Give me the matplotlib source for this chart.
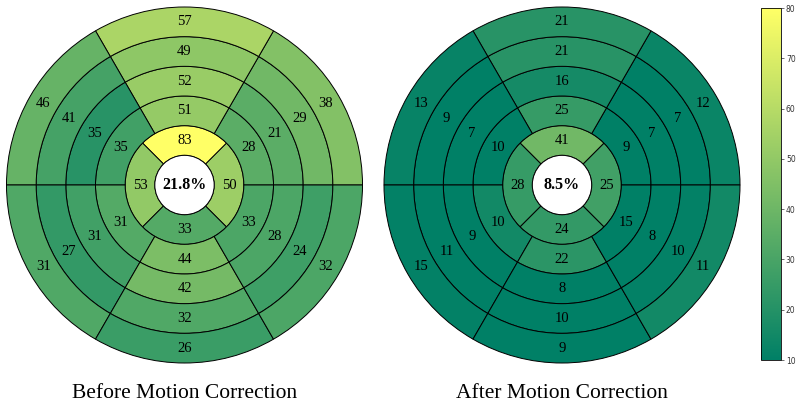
import numpy as np
import matplotlib
matplotlib.use("Agg")
import matplotlib.pyplot as plt
from matplotlib.patches import Wedge, Circle
from matplotlib import colors

# segment values, ring by ring from the inside out
# ring 1 order: right, top, left, bottom
# rings 2-5 order: upper right, top, upper left, lower left, bottom, lower right
before_rings = [
    [50, 83, 53, 33],
    [28, 51, 35, 31, 44, 33],
    [21, 52, 35, 31, 42, 28],
    [29, 49, 41, 27, 32, 24],
    [38, 57, 46, 31, 26, 32],
]
after_rings = [
    [25, 41, 28, 24],
    [9, 25, 10, 10, 22, 15],
    [7, 16, 7, 9, 8, 8],
    [7, 21, 9, 11, 10, 10],
    [12, 21, 13, 15, 9, 11],
]
before_centre = "21.8%"
after_centre = "8.5%"
titles = ["Before Motion Correction", "After Motion Correction"]
cbar_ticks = [10, 20, 30, 40, 50, 60, 70, 80]

serif = "Liberation Serif"
cmap = plt.get_cmap("summer")
norm = colors.Normalize(vmin=10, vmax=80)

W, H = 800, 407
fig = plt.figure(figsize=(W / 100, H / 100), dpi=100)


def bullseye(ax, rings, centre_txt):
    for k, vals in enumerate(rings):
        n = len(vals)
        r0 = k + 1
        step = 360.0 / n
        start = -45.0 if n == 4 else 0.0
        for i in range(n):
            a0 = start + i * step
            # fill colour is mirrored left/right relative to the printed value
            v_col = vals[(2 - i) % n]
            w = Wedge((0, 0), r0 + 1, a0, a0 + step, width=1,
                      facecolor=cmap(norm(v_col)), edgecolor="black", lw=0.7)
            ax.add_patch(w)
            mid = np.deg2rad(a0 + step / 2)
            ax.text((r0 + 0.5) * np.cos(mid), (r0 + 0.5) * np.sin(mid),
                    str(vals[i]), ha="center", va="center",
                    fontsize=10.5, family=serif, color="black")
    ax.add_patch(Circle((0, 0), 1, facecolor="white", edgecolor="black", lw=0.7))
    ax.text(0, 0, centre_txt, ha="center", va="center", fontsize=11.5,
            fontweight="bold", family=serif)
    ax.set_xlim(-6.02, 6.02)
    ax.set_ylim(-6.02, 6.02)
    ax.set_aspect("equal")
    ax.axis("off")


R = 178.6  # outer radius in pixels
for cx, rings, ctxt, ttl in [(184.5, before_rings, before_centre, titles[0]),
                             (562, after_rings, after_centre, titles[1])]:
    cy = H - 185
    ax = fig.add_axes([(cx - R) / W, (cy - R) / H, 2 * R / W, 2 * R / H])
    bullseye(ax, rings, ctxt)
    fig.text(cx / W, (H - 393) / H, ttl, ha="center", va="center",
             fontsize=15.5, family=serif)

cax = fig.add_axes([761 / W, (H - 360) / H, 20 / W, 352 / H])
sm = plt.cm.ScalarMappable(norm=norm, cmap=cmap)
cb = fig.colorbar(sm, cax=cax, ticks=cbar_ticks)
cb.ax.tick_params(labelsize=5.5, length=2, width=0.5, pad=1.5, colors="#333333")
cb.outline.set_linewidth(0.6)

fig.savefig("out.png", dpi=100)
